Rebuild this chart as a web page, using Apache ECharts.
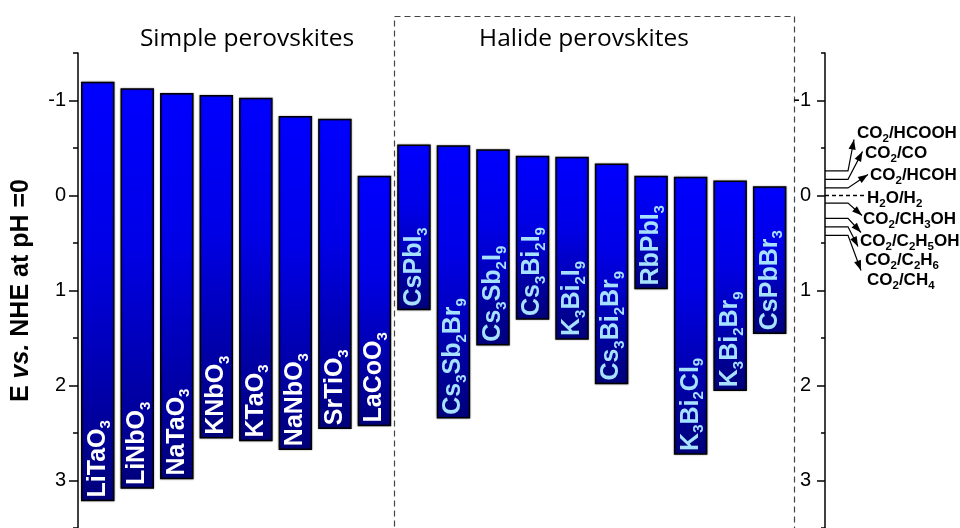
<!DOCTYPE html>
<html>
<head>
<meta charset="utf-8">
<script src="https://cdn.jsdelivr.net/npm/echarts@6/dist/echarts.min.js"></script>
<style>
  html, body { margin: 0; padding: 0; background: #fff; }
  #chart { width: 960px; height: 528px; }
</style>
</head>
<body>
<div id="chart"></div>
<script>
// Band edges (V vs. NHE, pH 0): conduction band (top) and valence band (bottom)
const simpleNames = ['LiTaO3', 'LiNbO3', 'NaTaO3', 'KNbO3', 'KTaO3', 'NaNbO3', 'SrTiO3', 'LaCoO3'];
const simpleCB = [-1.19, -1.12, -1.07, -1.05, -1.02, -0.83, -0.80, -0.20];
const simpleVB = [3.21, 3.08, 2.98, 2.55, 2.58, 2.67, 2.45, 2.42];

const halideNames = ['CsPbI3', 'Cs3Sb2Br9', 'Cs3Sb2I9', 'Cs3Bi2I9', 'K3Bi2I9', 'Cs3Bi2Br9', 'RbPbI3', 'K3Bi2Cl9', 'K3Bi2Br9', 'CsPbBr3'];
const halideCB = [-0.53, -0.52, -0.48, -0.41, -0.40, -0.33, -0.20, -0.19, -0.15, -0.09];
const halideVB = [1.20, 2.34, 1.57, 1.30, 1.51, 1.98, 0.98, 2.72, 2.05, 1.45];

// Redox couples marked on the right-hand axis
const redoxCouples = ['CO2/HCOOH', 'CO2/CO', 'CO2/HCOH', 'H2O/H2', 'CO2/CH3OH', 'CO2/C2H5OH', 'CO2/C2H6', 'CO2/CH4'];
const redoxPotentials = [-0.26, -0.17, -0.08, 0, 0.08, 0.24, 0.33, 0.42];

const groupTitles = ['Simple perovskites', 'Halide perovskites'];
const majorTicks = [-1, 0, 1, 2, 3];
const minorTicks = [-1.5, -0.5, 0.5, 1.5, 2.5, 3.5];

const names = simpleNames.concat(halideNames);
const cb = simpleCB.concat(halideCB);
const vb = simpleVB.concat(halideVB);
const barData = names.map((n, i) => [i, cb[i], vb[i]]);
const redoxData = redoxPotentials.map(v => [18.4, v]);

const SANS = '"Liberation Sans", Arial, Helvetica, sans-serif';
const subscript = s => s.replace(/(\d+)/g, '{s|$1}');

// fanned-out placement of the redox labels, relative to the 0 V level on the right axis
const redoxLayout = {
  tipDx:  [29, 37.5, 43, 40, 37, 36, 33, 36],
  tipDy:  [-56, -44, -21, 0, 20, 37, 51, 75],
  textDx: [32, 40, 45, 42, 38, 35, 40, 42],
  textDy: [-62, -42, -20, 3, 24, 46, 65, 85]
};

const chart = echarts.init(document.getElementById('chart'), null, { renderer: 'canvas' });

function yBase(pos) {
  return {
    type: 'value', position: pos, inverse: true, min: -1.5, max: 3.5,
    splitLine: { show: false }
  };
}

function renderBar(params, api) {
  const i = params.dataIndex;
  const x = api.value(0);
  const top = api.coord([x, api.value(1)]);
  const bot = api.coord([x, api.value(2)]);
  const w = api.size([1, 0])[0] * 0.81;
  const halide = i >= simpleNames.length;
  const labelColor = halide ? '#a6e1ff' : '#ffffff';
  return {
    type: 'group',
    children: [
      {
        type: 'rect',
        shape: { x: top[0] - w / 2, y: top[1], width: w, height: bot[1] - top[1] },
        style: {
          fill: new echarts.graphic.LinearGradient(0, 0, 0, 1, [
            { offset: 0, color: '#0000ff' },
            { offset: 0.4, color: '#0000e6' },
            { offset: 1, color: '#00007a' }
          ]),
          stroke: '#000',
          lineWidth: 1.5,
          shadowColor: 'rgba(0,0,0,0.35)',
          shadowBlur: 2
        }
      },
      {
        type: 'text',
        x: top[0],
        y: bot[1] - 3,
        rotation: Math.PI / 2,
        style: {
          text: subscript(names[i]),
          x: 0, y: 0,
          fill: labelColor,
          font: 'bold 25px ' + SANS,
          lineHeight: 32,
          align: 'left',
          verticalAlign: 'middle',
          rich: {
            s: {
              fontSize: 15, fontWeight: 'bold', fontFamily: SANS,
              fill: labelColor, lineHeight: 15, verticalAlign: 'bottom'
            }
          }
        }
      }
    ]
  };
}

function renderRedox(params, api) {
  const i = params.dataIndex;
  const p = api.coord([api.value(0), api.value(1)]);
  const axisX = p[0];
  const zeroY = api.coord([api.value(0), 0])[1];
  const y = p[1];
  const elbowX = axisX + 23;
  const children = [];
  const textX = axisX + redoxLayout.textDx[i];
  const textY = zeroY + redoxLayout.textDy[i];
  if (redoxPotentials[i] === 0) {
    children.push({
      type: 'line',
      shape: { x1: axisX, y1: y, x2: axisX + redoxLayout.tipDx[i], y2: y },
      style: { stroke: '#000', lineWidth: 1.3, lineDash: [4, 3] }
    });
  } else {
    const tx = axisX + redoxLayout.tipDx[i];
    const ty = zeroY + redoxLayout.tipDy[i];
    children.push({
      type: 'polyline',
      shape: { points: [[axisX, y], [elbowX, y], [tx, ty]] },
      style: { stroke: '#000', lineWidth: 1.2, fill: null }
    });
    const dx = tx - elbowX, dy = ty - y;
    const len = Math.sqrt(dx * dx + dy * dy);
    const ux = dx / len, uy = dy / len;
    const hl = 10, hw = 3.6;
    const bx = tx - ux * hl, by = ty - uy * hl;
    children.push({
      type: 'polygon',
      shape: { points: [[tx, ty], [bx - uy * hw, by + ux * hw], [bx + uy * hw, by - ux * hw]] },
      style: { fill: '#000' }
    });
  }
  children.push({
    type: 'text',
    x: textX, y: textY,
    style: {
      text: subscript(redoxCouples[i]),
      fill: '#000',
      font: 'bold 17px ' + SANS,
      lineHeight: 23,
      align: 'left',
      verticalAlign: 'middle',
      rich: {
        s: { fontSize: 11.5, fontWeight: 'bold', fontFamily: SANS, fill: '#000', lineHeight: 11.5, verticalAlign: 'bottom' }
      }
    }
  });
  return { type: 'group', children: children };
}

const option = {
  animation: false,
  backgroundColor: '#ffffff',
  grid: { left: 78, right: 135, top: 53, bottom: -2, containLabel: false },
  xAxis: { type: 'value', min: -0.5, max: 18.4, show: false },
  yAxis: [
    Object.assign(yBase('left'), {
      name: 'E {i|vs.} NHE at pH =0',
      nameLocation: 'middle',
      nameGap: 44,
      nameTextStyle: {
        fontSize: 25, fontWeight: 'bold', fontFamily: SANS, color: '#000',
        rich: { i: { fontSize: 25, fontWeight: 'bold', fontStyle: 'italic', fontFamily: SANS, color: '#000' } }
      },
      axisLine: { show: true, onZero: false, lineStyle: { color: '#000', width: 1.5 } },
      axisTick: { show: true, customValues: majorTicks, length: 9, lineStyle: { color: '#000', width: 1.5 } },
      axisLabel: { customValues: majorTicks, fontSize: 20, color: '#000', fontFamily: SANS, margin: 12 }
    }),
    Object.assign(yBase('left'), {
      axisLine: { show: false, onZero: false },
      axisTick: { show: true, customValues: minorTicks, length: 5, lineStyle: { color: '#000', width: 1.5 } },
      axisLabel: { show: false }
    }),
    Object.assign(yBase('right'), {
      axisLine: { show: true, onZero: false, lineStyle: { color: '#000', width: 1.5 } },
      axisTick: { show: true, inside: true, customValues: majorTicks, length: 8, lineStyle: { color: '#000', width: 1.5 } },
      axisLabel: { inside: true, customValues: majorTicks, fontSize: 20, color: '#000', fontFamily: SANS, margin: 14 }
    }),
    Object.assign(yBase('right'), {
      axisLine: { show: false, onZero: false },
      axisTick: { show: true, inside: true, customValues: minorTicks, length: 4, lineStyle: { color: '#000', width: 1.5 } },
      axisLabel: { show: false }
    })
  ],
  graphic: [
    {
      type: 'rect',
      shape: { x: 394.5, y: 16.5, width: 400, height: 530 },
      style: { fill: null, stroke: '#444', lineWidth: 1.2, lineDash: [6, 4] },
      silent: true
    },
    {
      type: 'text', x: 247, y: 39,
      style: { text: groupTitles[0], font: '24.5px "Open Sans", "Noto Sans", sans-serif', fill: '#000', align: 'center', verticalAlign: 'middle' }
    },
    {
      type: 'text', x: 584, y: 39,
      style: { text: groupTitles[1], font: '24.5px "Open Sans", "Noto Sans", sans-serif', fill: '#000', align: 'center', verticalAlign: 'middle' }
    }
  ],
  series: [
    {
      type: 'custom',
      name: 'band edges',
      xAxisIndex: 0, yAxisIndex: 0,
      encode: { x: 0, y: [1, 2] },
      data: barData,
      renderItem: renderBar,
      clip: false,
      z: 2
    },
    {
      type: 'custom',
      name: 'redox levels',
      xAxisIndex: 0, yAxisIndex: 0,
      encode: { x: 0, y: 1 },
      data: redoxData,
      renderItem: renderRedox,
      clip: false,
      z: 3
    }
  ]
};

chart.setOption(option);
</script>
</body>
</html>
